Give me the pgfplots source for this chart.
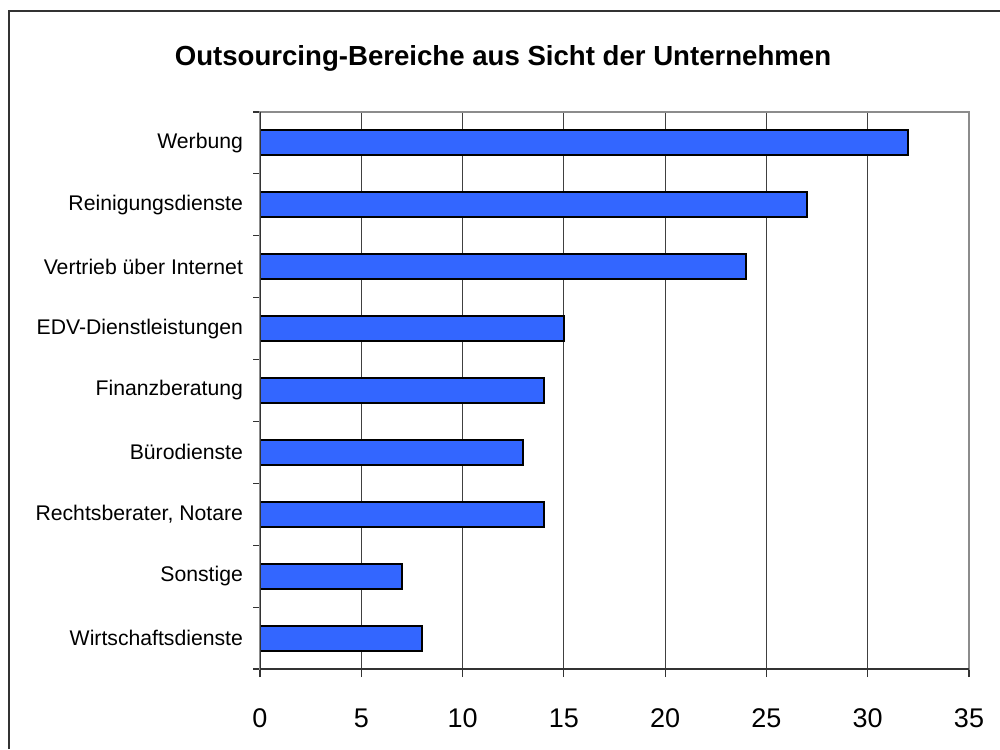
\documentclass[border=0pt]{standalone}
\usepackage{fontspec}
\setmainfont{Liberation Sans}
\usepackage{pgfplots}
\pgfplotsset{compat=1.18}
\definecolor{barblue}{RGB}{51,102,255}
\begin{document}
\begin{tikzpicture}
\useasboundingbox (0,0) rectangle (500pt,374.5pt);
\node[font=\fontsize{13.8}{16}\selectfont\bfseries] at (251.5pt,345.5pt) {Outsourcing-Bereiche aus Sicht der Unternehmen};
\begin{axis}[
  at={(130pt,40pt)}, anchor=south west,
  scale only axis,
  width=354.5pt, height=278.5pt,
  xbar, bar width=12.5pt,
  xmin=0, xmax=35,
  ymin=-0.5, ymax=8.5,
  xtick={0,5,...,35},
  ytick={0,...,8},
  yticklabels={Wirtschaftsdienste,Sonstige,{Rechtsberater, Notare},Bürodienste,Finanzberatung,EDV-Dienstleistungen,Vertrieb über Internet,Reinigungsdienste,Werbung},
  minor ytick={-0.5,0.5,...,8.5},
  xtick pos=bottom, ytick pos=left,
  tick align=outside,
  major tick length=4pt,
  every y tick/.style={draw=none},
  every minor y tick/.style={draw=black!80, line width=0.6pt},
  minor tick length=3.5pt,
  every x tick/.style={draw=black!80, line width=0.6pt},
  xmajorgrids,
  major x grid style={draw=black!75, line width=0.5pt},
  axis line style={draw=black!45, line width=1pt},
  /pgf/number format/assume math mode=true,
  xticklabel style={font=\fontsize{13.5}{16}\selectfont, yshift=-12.5pt},
  yticklabel style={font=\fontsize{10.6}{13}\selectfont, xshift=-1pt},
]
\addplot[fill=barblue, draw=black, line width=1pt] coordinates {
  (8,0) (7,1) (14,2) (13,3) (14,4) (15,5) (24,6) (27,7) (32,8)
};
\draw[black!80, line width=1pt] (rel axis cs:0,1) -- (rel axis cs:0,0) -- (rel axis cs:1,0);
\end{axis}
\draw[black!80, line width=1pt] (4.5pt,0) -- (4.5pt,369pt) -- (500pt,369pt);
\end{tikzpicture}
\end{document}
